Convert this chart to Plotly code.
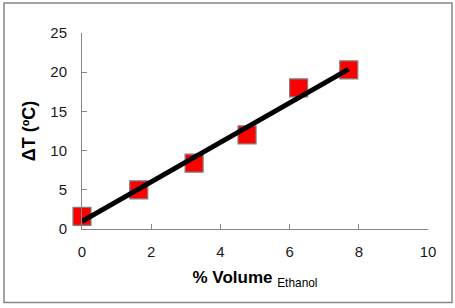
import numpy as np
import plotly.graph_objects as go

volume_ethanol = [0.0, 1.64, 3.24, 4.77, 6.26, 7.71]
delta_t = [1.6, 5.0, 8.4, 12.0, 18.0, 20.3]
x_ticks = [0, 2, 4, 6, 8, 10]
y_ticks = [0, 5, 10, 15, 20, 25]

slope, intercept = np.polyfit(volume_ethanol, delta_t, 1)
fit_x = [min(volume_ethanol), max(volume_ethanol)]
fit_y = [slope * v + intercept for v in fit_x]

fig = go.Figure()
fig.add_trace(go.Scatter(
    x=volume_ethanol, y=delta_t, mode="markers",
    marker=dict(symbol="square", size=18, color="#ff0000",
                line=dict(color="#7f7f7f", width=1.2)),
    cliponaxis=False, showlegend=False))
fig.add_trace(go.Scatter(
    x=fit_x, y=fit_y, mode="lines",
    line=dict(color="black", width=5), cliponaxis=False, showlegend=False))

axis_common = dict(showgrid=False, zeroline=False, showline=True,
                   linecolor="#868686", linewidth=1, ticks="inside",
                   ticklen=5, tickcolor="#868686", automargin=False,
                   tickfont=dict(family="Liberation Sans", size=15, color="#1a1a1a"))

fig.update_xaxes(range=[0, 10], tickvals=x_ticks, ticklabelstandoff=9,
                 title=dict(text="<b>% Volume</b> <sub>Ethanol</sub>",
                            font=dict(family="Liberation Sans", size=17, color="black"),
                            standoff=12),
                 **axis_common)
fig.update_yaxes(range=[0, 25], tickvals=y_ticks, ticklabelstandoff=11,
                 title=dict(text="<b>ΔT (ºC)</b>",
                            font=dict(family="Liberation Sans", size=18, color="black"),
                            standoff=10),
                 **axis_common)

fig.add_shape(type="rect", xref="paper", yref="paper", layer="above",
              x0=-0.2254, x1=1.0694, y0=-0.3746, y1=1.153,
              line=dict(color="#868686", width=1.5), fillcolor="rgba(0,0,0,0)")

fig.update_layout(width=455, height=308,
                  margin=dict(l=82, r=27, t=33, b=79),
                  paper_bgcolor="white", plot_bgcolor="white")
fig.write_html("out.html", config={"displayModeBar": False},
               post_script="document.body.style.margin='0';document.body.style.padding='0';")
